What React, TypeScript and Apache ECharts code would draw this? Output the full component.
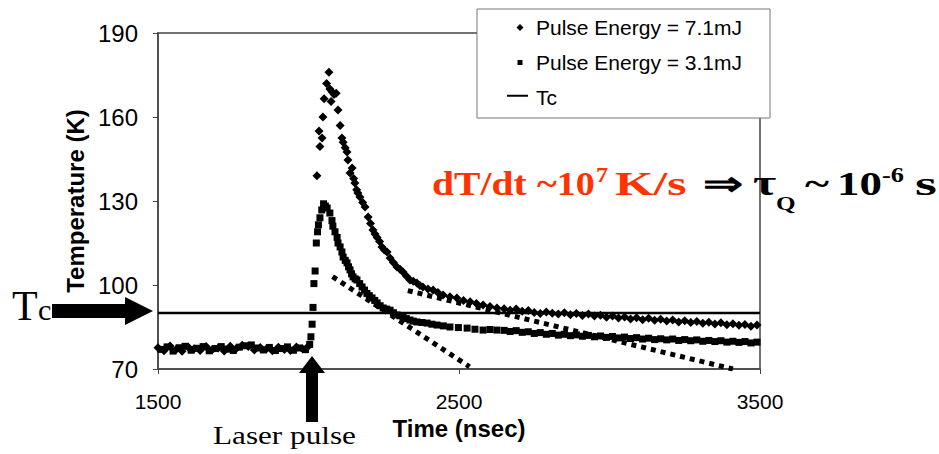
import React, { useEffect, useRef } from 'react';
import * as echarts from 'echarts';

const xTicks = [1500, 2500, 3500];
const yTicks = [70, 100, 130, 160, 190];
const names = ['Pulse Energy = 7.1mJ', 'Pulse Energy = 3.1mJ', 'Tc'];
const tcLine: [number, number][] = [[1500, 90], [3500, 90]];

// 7.1 mJ (diamonds)
const base71: [number, number][] = [
  [1500, 77.6], [1520, 76.5], [1540, 78.2], [1560, 77.0], [1580, 76.3], [1600, 77.9], [1620, 77.2],
  [1640, 76.6], [1660, 78.0], [1680, 76.9], [1700, 77.5], [1720, 76.4], [1740, 78.1], [1760, 77.3],
  [1780, 78.5], [1800, 78.0], [1820, 76.8], [1840, 77.7], [1860, 77.1], [1880, 76.5], [1900, 77.8],
  [1920, 77.0], [1940, 76.6], [1960, 77.9], [1980, 77.2], [2000, 78.2],
];
const peak71: [number, number][] = [
  [2028, 139], [2035, 155], [2038, 149.5], [2045, 152.5], [2048, 160], [2052, 166.5], [2060, 172],
  [2068, 176], [2071, 170], [2075, 165.5], [2078, 169], [2085, 168], [2092, 168.5], [2098, 162.5],
  [2105, 157], [2111, 152.5], [2115, 151], [2122, 149], [2128, 147.5], [2131, 144.6], [2138, 140],
  [2145, 141.8], [2150, 138], [2154, 136.4], [2160, 134], [2164, 132.9], [2171, 131.4], [2180, 129.5],
  [2188, 127.9], [2198, 124.3], [2206, 122], [2214, 119.6], [2221, 118.2], [2228, 117], [2236, 115.5],
  [2244, 113.6], [2252, 112.5], [2261, 111.8], [2271, 109.6], [2282, 108], [2294, 106.4], [2304, 105.6],
  [2314, 104.6], [2325, 103.2], [2337, 101.8], [2348, 101.3], [2360, 100.7], [2370, 99.8], [2380, 99.3],
  [2397, 98.6], [2414, 98.2], [2430, 97.3], [2447, 96.4], [2470, 95.8], [2493, 95.4], [2515, 94.5],
  [2537, 94], [2558, 93.4], [2580, 92.9], [2603, 92.3], [2626, 91.8],
];
const tail71: [number, number][] = [
  [2650, 91.5], [2670, 91.0], [2690, 91.4], [2710, 90.6], [2730, 90.9], [2750, 90.2], [2770, 89.8],
  [2790, 90.4], [2810, 89.9], [2830, 89.6], [2850, 90.1], [2870, 89.4], [2890, 89.8], [2910, 89.1],
  [2930, 89.6], [2950, 88.9], [2970, 89.2], [2990, 88.5], [3010, 88.9], [3030, 88.2], [3050, 88.6],
  [3070, 87.9], [3090, 88.3], [3110, 87.6], [3130, 88.1], [3150, 87.4], [3170, 87.8], [3190, 87.1],
  [3210, 87.5], [3230, 86.8], [3250, 87.2], [3270, 86.6], [3290, 87.0], [3310, 86.3], [3330, 86.7],
  [3350, 86.1], [3370, 86.5], [3390, 85.8], [3410, 86.2], [3430, 85.6], [3450, 85.9], [3470, 85.3],
  [3490, 85.7],
];

// 3.1 mJ (squares)
const base31: [number, number][] = [
  [1510, 77.0], [1530, 77.9], [1550, 76.4], [1570, 77.6], [1590, 78.1], [1610, 76.7], [1630, 77.4],
  [1650, 78.0], [1670, 76.5], [1690, 77.3], [1710, 78.0], [1730, 77.1], [1750, 76.6], [1770, 77.8],
  [1790, 78.3], [1810, 78.6], [1830, 77.5], [1850, 76.8], [1870, 77.7], [1890, 76.6], [1910, 77.3],
  [1930, 77.9], [1950, 76.7], [1970, 77.5], [1990, 76.9],
];
const peak31: [number, number][] = [
  [2004, 78.8], [2008, 81.5], [2012, 86], [2015, 92], [2018, 100.5], [2022, 105], [2026, 115],
  [2030, 119], [2033, 121.5], [2038, 124], [2044, 126.8], [2050, 129], [2056, 128.2], [2062, 127.5],
  [2071, 125.7], [2078, 123], [2081, 121], [2088, 119], [2095, 117], [2098, 115], [2105, 113.6],
  [2111, 111.8], [2115, 110], [2122, 108.8], [2128, 107.9], [2133, 106.5], [2138, 105.4], [2143, 104],
  [2148, 102.9], [2155, 102.2], [2161, 101.8], [2170, 100.5], [2178, 99.3], [2186, 98.2], [2194, 97],
  [2202, 96.2], [2211, 95.4], [2220, 94.5], [2228, 93.6], [2238, 92.6], [2248, 91.8], [2260, 91.4],
  [2271, 91], [2282, 90.1], [2294, 89.3], [2304, 89], [2314, 88.6], [2325, 88], [2337, 87.5],
  [2348, 87.1], [2360, 86.8], [2377, 86.6], [2394, 86.4], [2410, 86], [2427, 85.7], [2448, 85.4],
  [2470, 85], [2498, 84.8], [2527, 84.6], [2553, 84.2], [2580, 83.9], [2603, 84.1], [2626, 83.9],
];
const tail31: [number, number][] = [
  [2650, 83.8], [2670, 83.4], [2690, 83.7], [2710, 83.1], [2730, 83.3], [2750, 82.7], [2770, 83.0],
  [2790, 82.4], [2810, 82.7], [2830, 82.1], [2850, 82.4], [2870, 81.9], [2890, 82.2], [2910, 81.7],
  [2930, 82.0], [2950, 81.5], [2970, 81.8], [2990, 81.3], [3010, 81.6], [3030, 81.1], [3050, 81.4],
  [3070, 80.9], [3090, 81.2], [3110, 80.7], [3130, 81.0], [3150, 80.5], [3170, 80.8], [3190, 80.4],
  [3210, 80.7], [3230, 80.2], [3250, 80.5], [3270, 80.1], [3290, 80.4], [3310, 79.9], [3330, 80.2],
  [3350, 79.8], [3370, 80.1], [3390, 79.6], [3410, 79.9], [3430, 79.5], [3450, 79.8], [3470, 79.3],
  [3490, 79.6],
];

// dotted tangent lines
const fitA: [number, number][] = [[2080, 103], [2535, 70.8]];
const fitB: [number, number][] = [[2330, 98], [3410, 70]];

const SANS = "Arial, 'Liberation Sans', sans-serif";
const SERIF = "'Times New Roman', 'Liberation Serif', serif";
const RED = '#FF3300';

// legend icons (box 24 x 9)
const iconDiamond = 'path://M0,0M13,1L16.5,4.5L13,8L9.5,4.5ZM24,9';
const iconSquare = 'path://M0,0M10.5,2H15.5V7H10.5ZM24,9';
const iconLine = 'path://M0,3.5H21V5.5H0ZM24,9';

function txt(text: string, x: number, baseline: number, fs: number, scaleX: number, fill: string, bold = true) {
  return {
    type: 'text',
    x,
    y: baseline - 0.3375 * fs,
    scaleX,
    style: {
      text,
      fill,
      font: `${bold ? 'bold ' : ''}${fs}px ${SERIF}`,
      textAlign: 'left',
      textVerticalAlign: 'middle',
      verticalAlign: 'middle',
    },
    z: 100,
  };
}

export default function App() {
  const ref = useRef<HTMLDivElement>(null);
  useEffect(() => {
    if (!ref.current) return;
    const chart = echarts.init(ref.current, null, { renderer: 'svg' });
    const option: any = {
      animation: false,
      backgroundColor: '#ffffff',
      grid: {
        left: 158, right: 179, top: 33, bottom: 85,
        show: true, borderColor: '#444', borderWidth: 1.5, backgroundColor: 'transparent',
      },
      legend: {
        data: [
          { name: names[0], icon: iconDiamond },
          { name: names[1], icon: iconSquare },
          { name: names[2], icon: iconLine },
        ],
        orient: 'vertical',
        left: 477, top: 9,
        padding: [8, 28, 10, 30],
        itemGap: 14,
        itemWidth: 24,
        itemHeight: 9,
        itemStyle: { borderWidth: 0 },
        backgroundColor: '#ffffff',
        borderColor: '#777',
        borderWidth: 1,
        textStyle: { fontFamily: SANS, fontSize: 21, color: '#000' },
      },
      xAxis: {
        type: 'value', min: 1500, max: 3500,
        name: 'Time (nsec)', nameLocation: 'middle', nameGap: 45,
        nameTextStyle: { fontFamily: SANS, fontSize: 24, fontWeight: 'bold', color: '#000' },
        axisLine: { show: true, lineStyle: { color: '#444', width: 1.5 } },
        axisTick: { show: true, length: 5, lineStyle: { color: '#444' }, customValues: xTicks },
        axisLabel: {
          fontFamily: SANS, fontSize: 21, color: '#000', margin: 22, customValues: xTicks,
          formatter: (v: number) => String(v),
        },
        splitLine: { show: false },
      },
      yAxis: {
        type: 'value', min: 70, max: 190,
        name: 'Temperature (K)', nameLocation: 'middle', nameGap: 62,
        nameTextStyle: { fontFamily: SANS, fontSize: 24, fontWeight: 'bold', color: '#000' },
        axisLine: { show: true, lineStyle: { color: '#444', width: 1.5 } },
        axisTick: { show: true, length: 5, lineStyle: { color: '#444' }, customValues: yTicks },
        axisLabel: {
          fontFamily: SANS, fontSize: 24, color: '#000', margin: 20, customValues: yTicks,
          formatter: (v: number) => String(v),
        },
        splitLine: { show: false },
      },
      series: [
        {
          name: names[0], type: 'scatter', symbol: 'diamond', symbolSize: 9,
          itemStyle: { color: '#000', opacity: 1 },
          data: [...base71, ...peak71, ...tail71],
        },
        {
          name: names[1], type: 'scatter', symbol: 'rect', symbolSize: 7,
          itemStyle: { color: '#000', opacity: 1 },
          data: [...base31, ...peak31, ...tail31],
        },
        {
          name: names[2], type: 'line', symbol: 'none', showSymbol: false,
          lineStyle: { color: '#000', width: 2.5 }, itemStyle: { color: '#000' },
          data: tcLine, z: 3,
        },
        {
          name: 'fitA', type: 'line', symbol: 'none', showSymbol: false,
          lineStyle: { color: '#000', width: 5, type: [5, 5], cap: 'butt' },
          data: fitA, z: 3,
        },
        {
          name: 'fitB', type: 'line', symbol: 'none', showSymbol: false,
          lineStyle: { color: '#000', width: 5, type: [5, 5], cap: 'butt' },
          data: fitB, z: 3,
        },
      ],
      graphic: [
        {
          type: 'polygon', z: 100,
          shape: { points: [[52, 304], [125, 304], [125, 297], [153, 311], [125, 325], [125, 318], [52, 318]] },
          style: { fill: '#000' },
        },
        {
          type: 'polygon', z: 100,
          shape: { points: [[312, 356], [325, 373], [318, 373], [318, 422], [306, 422], [306, 373], [299, 373]] },
          style: { fill: '#000' },
        },
        txt('T', 12, 320, 42, 1, '#000', false),
        txt('c', 38, 320, 30, 1, '#000', false),
        txt('Laser pulse', 213, 444, 26, 1.2, '#000', false),
        txt('dT/dt', 432, 195, 33, 1.2, RED),
        txt('~10', 537, 195, 33, 1.15, RED),
        txt('7', 596, 182, 22, 1.1, RED),
        txt('K/s', 615, 195, 33, 1.5, RED),
        txt('⇒', 703, 195, 33, 1.45, '#000'),
        txt('τ', 753, 195, 36, 1.4, '#000'),
        txt('Q', 776, 210, 18, 1.4, '#000'),
        txt('~', 805, 195, 33, 1.4, '#000'),
        txt('10', 837, 195, 33, 1.36, '#000'),
        txt('-6', 882, 182, 22, 1.2, '#000'),
        txt('s', 915, 195, 33, 1.7, '#000'),
      ],
    };
    chart.setOption(option);
    return () => chart.dispose();
  }, []);
  return <div ref={ref} style={{ position: 'fixed', left: 0, top: 0, width: 939, height: 454 }} />;
}
